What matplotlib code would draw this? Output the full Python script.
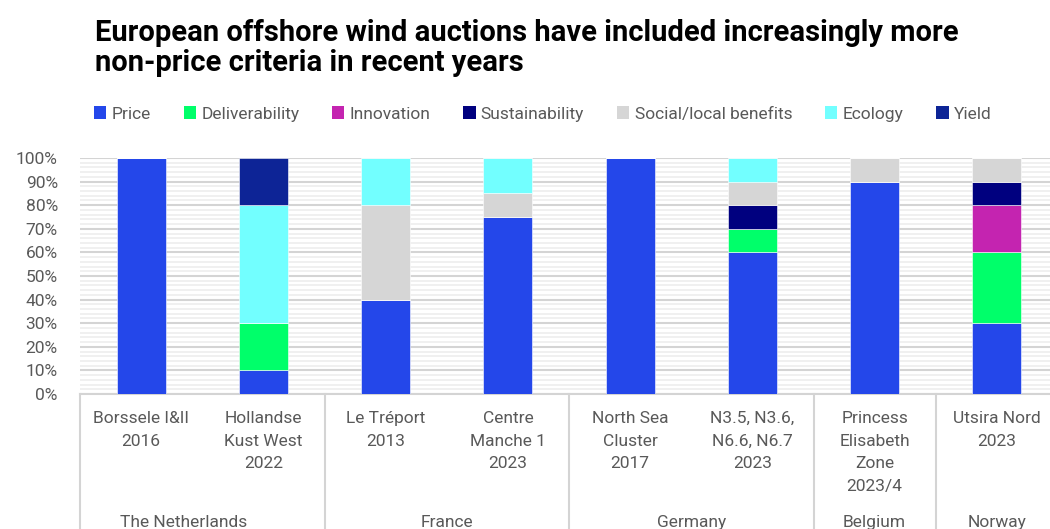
import numpy as np
import matplotlib.pyplot as plt
from matplotlib.patches import Patch
import matplotlib.transforms as mtransforms

plt.rcParams['font.family'] = ['Roboto', 'DejaVu Sans']

# ---- data ----
categories = ["Borssele I&II\n2016", "Hollandse\nKust West\n2022",
              "Le Tréport\n2013", "Centre\nManche 1\n2023",
              "North Sea\nCluster\n2017", "N3.5, N3.6,\nN6.6, N6.7\n2023",
              "Princess\nElisabeth\nZone\n2023/4", "Utsira Nord\n2023"]
groups = ["The Netherlands", "France", "Germany", "Belgium", "Norway"]
group_sizes = [2, 2, 2, 1, 1]

series = ["Price", "Deliverability", "Innovation", "Sustainability",
          "Social/local benefits", "Ecology", "Yield"]
price          = [100, 10, 40, 75, 100, 60, 90, 30]
deliverability = [0, 20, 0, 0, 0, 10, 0, 30]
innovation     = [0, 0, 0, 0, 0, 0, 0, 20]
sustainability = [0, 0, 0, 0, 0, 10, 0, 10]
social         = [0, 0, 40, 10, 0, 10, 10, 10]
ecology        = [0, 50, 20, 15, 0, 10, 0, 0]
yield_         = [0, 20, 0, 0, 0, 0, 0, 0]
values = [price, deliverability, innovation, sustainability, social, ecology, yield_]
colors = ["#2447EA", "#00FF6A", "#C424B0", "#00007F", "#D6D6D6", "#72FFFF", "#0D2496"]

txt = "#595959"
grid = "#d4d4d4"

fig = plt.figure(figsize=(10.5, 5.29), dpi=100)
ax = fig.add_axes([80 / 1050, (529 - 394) / 529, (1058 - 80) / 1050, 236 / 529])

x = np.arange(len(categories))
bottom = np.zeros(len(categories))
for name, vals, c in zip(series, values, colors):
    v = np.array(vals) / 100.0
    ax.bar(x, v, width=0.4, bottom=bottom, color=c, edgecolor="white",
           linewidth=0.4, zorder=3)
    bottom += v

ax.set_xlim(-0.5, len(categories) - 0.5)
ax.set_ylim(0, 1)
ax.set_yticks(np.arange(0, 1.01, 0.1))
ax.set_yticklabels([f"{int(round(t * 100))}%" for t in np.arange(0, 1.01, 0.1)])
ax.set_yticks(np.arange(0, 1.0, 0.02), minor=True)
ax.tick_params(axis="y", which="both", length=0, labelsize=12.5, labelcolor=txt, pad=16)
ax.tick_params(axis="x", length=0, labelbottom=False)
ax.grid(axis="y", which="major", color=grid, linewidth=1.5, zorder=0)
ax.grid(axis="y", which="minor", color="#eeeeee", linewidth=1.2, zorder=0)
for s in ["top", "right", "left"]:
    ax.spines[s].set_visible(False)
ax.spines["bottom"].set_color(grid)
ax.spines["bottom"].set_linewidth(1.5)

# category and group labels
trans = mtransforms.blended_transform_factory(ax.transData, ax.transAxes)
for xi, lab in zip(x, categories):
    ax.text(xi, -0.072, lab, transform=trans, ha="center", va="top",
            fontsize=12.5, color=txt, linespacing=1.63)

edges = np.concatenate([[0], np.cumsum(group_sizes)]) - 0.5
for e in edges:
    ax.plot([e, e], [0, -0.65], transform=trans, color=grid, linewidth=1.5,
            clip_on=False, zorder=1)
group_x = [0.35, 2.5, 4.5, 6.0, 7.0]
for gx, g in zip(group_x, groups):
    ax.text(gx, -0.513, g, transform=trans, ha="center", va="top",
            fontsize=12.5, color=txt)

# legend
handles = [Patch(facecolor=c, edgecolor="none") for c in colors]
leg = fig.legend(handles, series, loc="center", ncol=7,
                 bbox_to_anchor=(0.517, 1 - 114 / 529), frameon=False,
                 handlelength=0.7, handleheight=0.7, handletextpad=0.3,
                 columnspacing=1.9, fontsize=12.5)
for t in leg.get_texts():
    t.set_color(txt)

fig.text(95 / 1050, 1 - 19 / 529,
         "European offshore wind auctions have included increasingly more\n"
         "non-price criteria in recent years",
         fontsize=21, fontweight="bold", color="black", va="top", ha="left",
         linespacing=1.07)

fig.savefig("out.png", dpi=100)
